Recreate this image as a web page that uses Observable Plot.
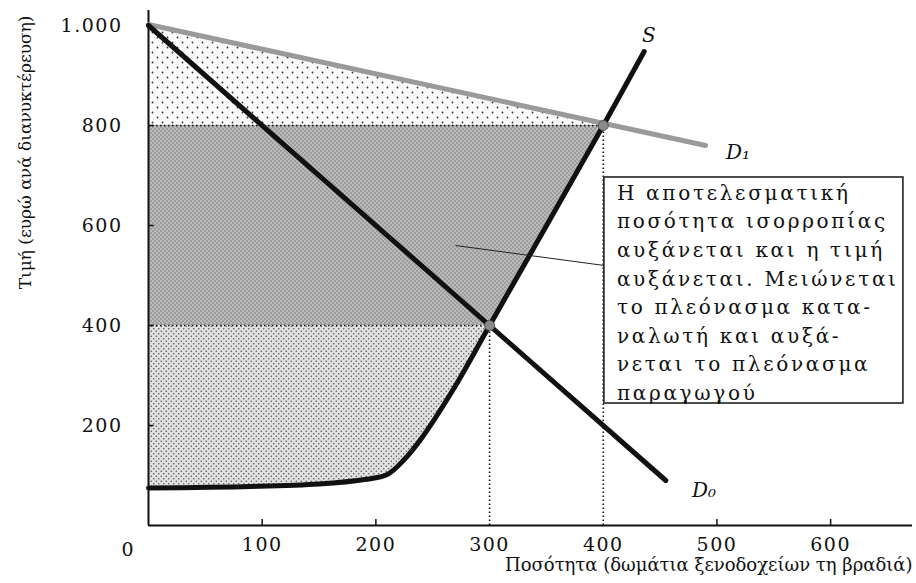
<!DOCTYPE html>
<html><head><meta charset="utf-8">
<script src="https://cdn.jsdelivr.net/npm/d3@7"></script>
<script src="https://cdn.jsdelivr.net/npm/@observablehq/plot@0.6"></script>
<style>body{margin:0;background:#fff} svg{display:block}</style>
</head><body><div id="chart"></div>
<script>
// ---- data ----
const d0Qty = [0, 455], d0Price = [1000, 90];
const d1Qty = [0, 490], d1Price = [1002, 760];
const sQty   = [0, 90, 150, 190, 210, 225, 240, 268, 300, 400, 436];
const sPrice = [75, 78, 83, 92, 102, 132, 174, 272, 400, 800, 948];
const eqQty = [300, 400], eqPrice = [400, 800];
const xTicks = [100, 200, 300, 400, 500, 600];
const xTickMarks = [100, 200, 500, 600];
const yTicks = [200, 400, 600, 800, 1000];
const yTickLabels = ["200", "400", "600", "800", "1.000"];
const curveNames = ["S", "D₁", "D₀"];
const curveLabelQty = [434, 508, 478], curveLabelPrice = [980, 745, 70];
const noteLines = [
  "Η αποτελεσματική",
  "ποσότητα ισορροπίας",
  "αυξάνεται και η τιμή",
  "αυξάνεται. Μειώνεται",
  "το πλεόνασμα κατα-",
  "ναλωτή και αυξά-",
  "νεται το πλεόνασμα",
  "παραγωγού"
];
const noteBox = {x1: 401, x2: 664, y1: 244, y2: 696};
const noteText = {x: 412, y: 692};
const leader = {x1: 270, y1: 560, x2: 401, y2: 520};
const xLabel = "Ποσότητα (δωμάτια ξενοδοχείων τη βραδιά)";
const yLabel = "Τιμή (ευρώ ανά διανυκτέρευση)";

// ---- derived tables ----
const D0 = d0Qty.map((q, i) => ({q, p: d0Price[i]}));
const D1 = d1Qty.map((q, i) => ({q, p: d1Price[i]}));
const S = sQty.map((q, i) => ({q, p: sPrice[i]}));
const d1At = q => d1Price[0] + (d1Price[1] - d1Price[0]) * (q - d1Qty[0]) / (d1Qty[1] - d1Qty[0]);
const topArea = [0, eqQty[1]].map(q => ({q, lo: eqPrice[1], hi: d1At(q)}));
const midArea = [0, 1].map(i => ({p: eqPrice[i], x1: 0, x2: eqQty[i]}));
const lowArea = S.filter(d => d.q <= eqQty[0]).map(d => ({q: d.q, lo: d.p, hi: eqPrice[0]}));
const labels = curveNames.map((t, i) => ({t, q: curveLabelQty[i], p: curveLabelPrice[i]}));
const serif = "DejaVu Serif";

const chart = Plot.plot({
  width: 916, height: 583,
  marginLeft: 148, marginRight: 4, marginTop: 10, marginBottom: 58,
  x: {domain: [0, 672]},
  y: {domain: [0, 1030]},
  style: {fontFamily: serif, fontSize: "17px", background: "#fff", color: "#111"},
  marks: [
    Plot.areaY(topArea, {x: "q", y1: "lo", y2: "hi", fill: "url(#patTop)"}),
    Plot.areaX(midArea, {y: "p", x1: "x1", x2: "x2", fill: "url(#patMid)"}),
    Plot.areaY(lowArea, {x: "q", y1: "lo", y2: "hi", fill: "url(#patLow)", curve: "catmull-rom"}),
    // dotted guides
    Plot.ruleY([0, 1], {y: i => eqPrice[i], x1: 0, x2: i => eqQty[i], stroke: "#111", strokeWidth: 1.6, strokeDasharray: "1.5,2.5"}),
    Plot.ruleX([0, 1], {x: i => eqQty[i], y1: 0, y2: i => eqPrice[i], stroke: "#111", strokeWidth: 1.6, strokeDasharray: "1.5,2.5"}),
    // axes lines and ticks
    Plot.ruleX([0], {stroke: "#111", strokeWidth: 2}),
    Plot.ruleY([0], {stroke: "#111", strokeWidth: 2}),
    Plot.ruleX(xTickMarks, {y1: 0, y2: 12, stroke: "#111", strokeWidth: 1.5}),
    Plot.ruleY(yTicks, {x1: 0, x2: 5, stroke: "#111", strokeWidth: 1.5}),
    Plot.axisX({ticks: xTicks, tickSize: 0, tickPadding: 12, label: null, fontSize: 19, fontFamily: serif}),
    Plot.axisY({ticks: yTicks, tickSize: 0, tickPadding: 26, label: null, fontSize: 19, fontFamily: serif,
      tickFormat: d => yTickLabels[yTicks.indexOf(d)]}),
    Plot.text(["0"], {x: 0, y: 0, dx: -21, dy: 24, fontSize: 19, fontFamily: serif}),
    Plot.text([xLabel], {frameAnchor: "bottom-right", dy: 45, textAnchor: "end", fontSize: 18, fontFamily: serif}),
    Plot.text([yLabel], {frameAnchor: "top-left", dx: -130, dy: 5, rotate: -90, textAnchor: "end", fontSize: 17, fontFamily: serif}),
    // curves
    Plot.line(D1, {x: "q", y: "p", stroke: "#9a9a9a", strokeWidth: 5, strokeLinecap: "round"}),
    Plot.line(D0, {x: "q", y: "p", stroke: "#111", strokeWidth: 5, strokeLinecap: "round"}),
    Plot.line(S, {x: "q", y: "p", stroke: "#111", strokeWidth: 5, curve: "catmull-rom", strokeLinecap: "round"}),
    Plot.dot([0, 1], {x: i => eqQty[i], y: i => eqPrice[i], r: 5, fill: "#8a8a8a", stroke: "#555", strokeWidth: 1}),
    Plot.text(labels, {x: "q", y: "p", text: "t", fontStyle: "italic", fontSize: 20, fontFamily: serif, textAnchor: "start"}),
    // annotation
    Plot.link([leader], {x1: "x1", y1: "y1", x2: "x2", y2: "y2", stroke: "#222", strokeWidth: 1}),
    Plot.rect([noteBox], {x1: "x1", x2: "x2", y1: "y1", y2: "y2", fill: "#fff", stroke: "#222", strokeWidth: 1.6}),
    Plot.text([noteLines.join("\n")], {x: noteText.x, y: noteText.y, textAnchor: "start", lineAnchor: "top",
      lineHeight: 1.43, fontSize: 20, fontFamily: serif, fill: "#111"})
  ]
});
document.getElementById("chart").appendChild(chart);

// wider letter spacing to match the stretched typography of the original
const svg = d3.select(chart);
svg.selectAll("text").filter(function() { return this.textContent.startsWith(noteLines[0]); })
  .style("letter-spacing", "2.7px");
svg.selectAll('g[aria-label="x-axis tick label"] text, g[aria-label="y-axis tick label"] text')
  .style("letter-spacing", "1.5px");

// stipple patterns for the shaded surplus areas
const defs = svg.insert("defs", ":first-child");
function pattern(id, bg, dot, size, r) {
  const p = defs.append("pattern").attr("id", id).attr("patternUnits", "userSpaceOnUse")
    .attr("width", size).attr("height", size);
  p.append("rect").attr("width", size).attr("height", size).attr("fill", bg);
  p.append("circle").attr("cx", size / 4).attr("cy", size / 4).attr("r", r).attr("fill", dot);
  p.append("circle").attr("cx", size * 3 / 4).attr("cy", size * 3 / 4).attr("r", r).attr("fill", dot);
}
pattern("patTop", "#fbfbfb", "#333", 10, 0.9);
pattern("patMid", "#9e9e9e", "#dedede", 4, 0.8);
pattern("patLow", "#e0e0e0", "#444", 5, 0.7);
</script>
</body></html>
